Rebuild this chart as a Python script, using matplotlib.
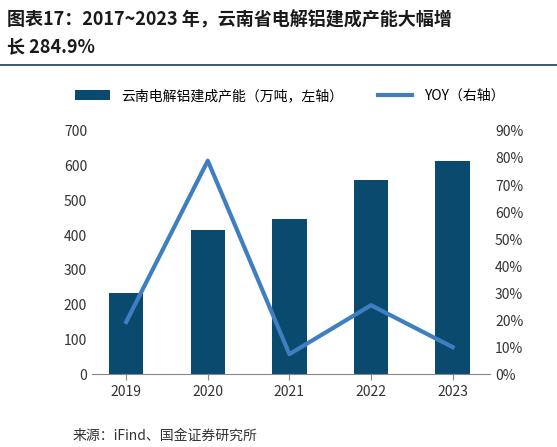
import matplotlib
matplotlib.use("Agg")
import matplotlib.pyplot as plt
from matplotlib.ticker import FuncFormatter

plt.rcParams['font.family'] = ['Noto Sans CJK SC', 'DejaVu Sans']

years = ['2019', '2020', '2021', '2022', '2023']
capacity = [233, 415, 447, 559, 614]
yoy = [19.3, 79.0, 7.4, 25.5, 10.0]

fig = plt.figure(figsize=(5.57, 4.47), dpi=100)
ax = fig.add_axes([0.165, 0.163, 0.715, 0.544])
ax2 = ax.twinx()

bar_c = '#0b4a6f'
line_c = '#3f7fc1'
b = ax.bar(years, capacity, width=0.42, color=bar_c, label='云南电解铝建成产能（万吨，左轴）')
l, = ax2.plot(years, yoy, color=line_c, lw=3, label='YOY（右轴）')

ax.set_ylim(0, 700)
ax.set_yticks(range(0, 701, 100))
ax2.set_ylim(0, 90)
ax2.set_yticks(range(0, 91, 10))
ax2.yaxis.set_major_formatter(FuncFormatter(lambda v, p: f'{v:.0f}%'))
ax.set_xlim(-0.42, 4.46)

for a in (ax, ax2):
    for s in ('top', 'left', 'right'):
        a.spines[s].set_visible(False)
    a.tick_params(length=0, labelsize=10, colors='#333333')
ax.spines['bottom'].set_color('#888888')
ax2.spines['bottom'].set_visible(False)
ax.tick_params(axis='x', length=4, color='#888888', direction='out')

fig.legend([b, l], [b.get_label(), l.get_label()], loc='center', bbox_to_anchor=(0.52, 0.785),
           ncol=2, frameon=False, fontsize=10, handlelength=2.5, columnspacing=2.5)

fig.text(0.012, 0.955, '图表17：2017~2023 年，云南省电解铝建成产能大幅增', fontsize=13,
         fontweight='bold', style='italic', color='#1a1a1a', va='center')
fig.text(0.012, 0.895, '长 284.9%', fontsize=13, fontweight='bold', style='italic',
         color='#1a1a1a', va='center')
fig.add_artist(plt.Line2D([0.0, 1.0], [0.855, 0.855], color='#1f3a5f', lw=1.2))
fig.text(0.13, 0.025, '来源：iFind、国金证券研究所', fontsize=10, color='#333333', va='center')

fig.savefig('out.png', dpi=100)
